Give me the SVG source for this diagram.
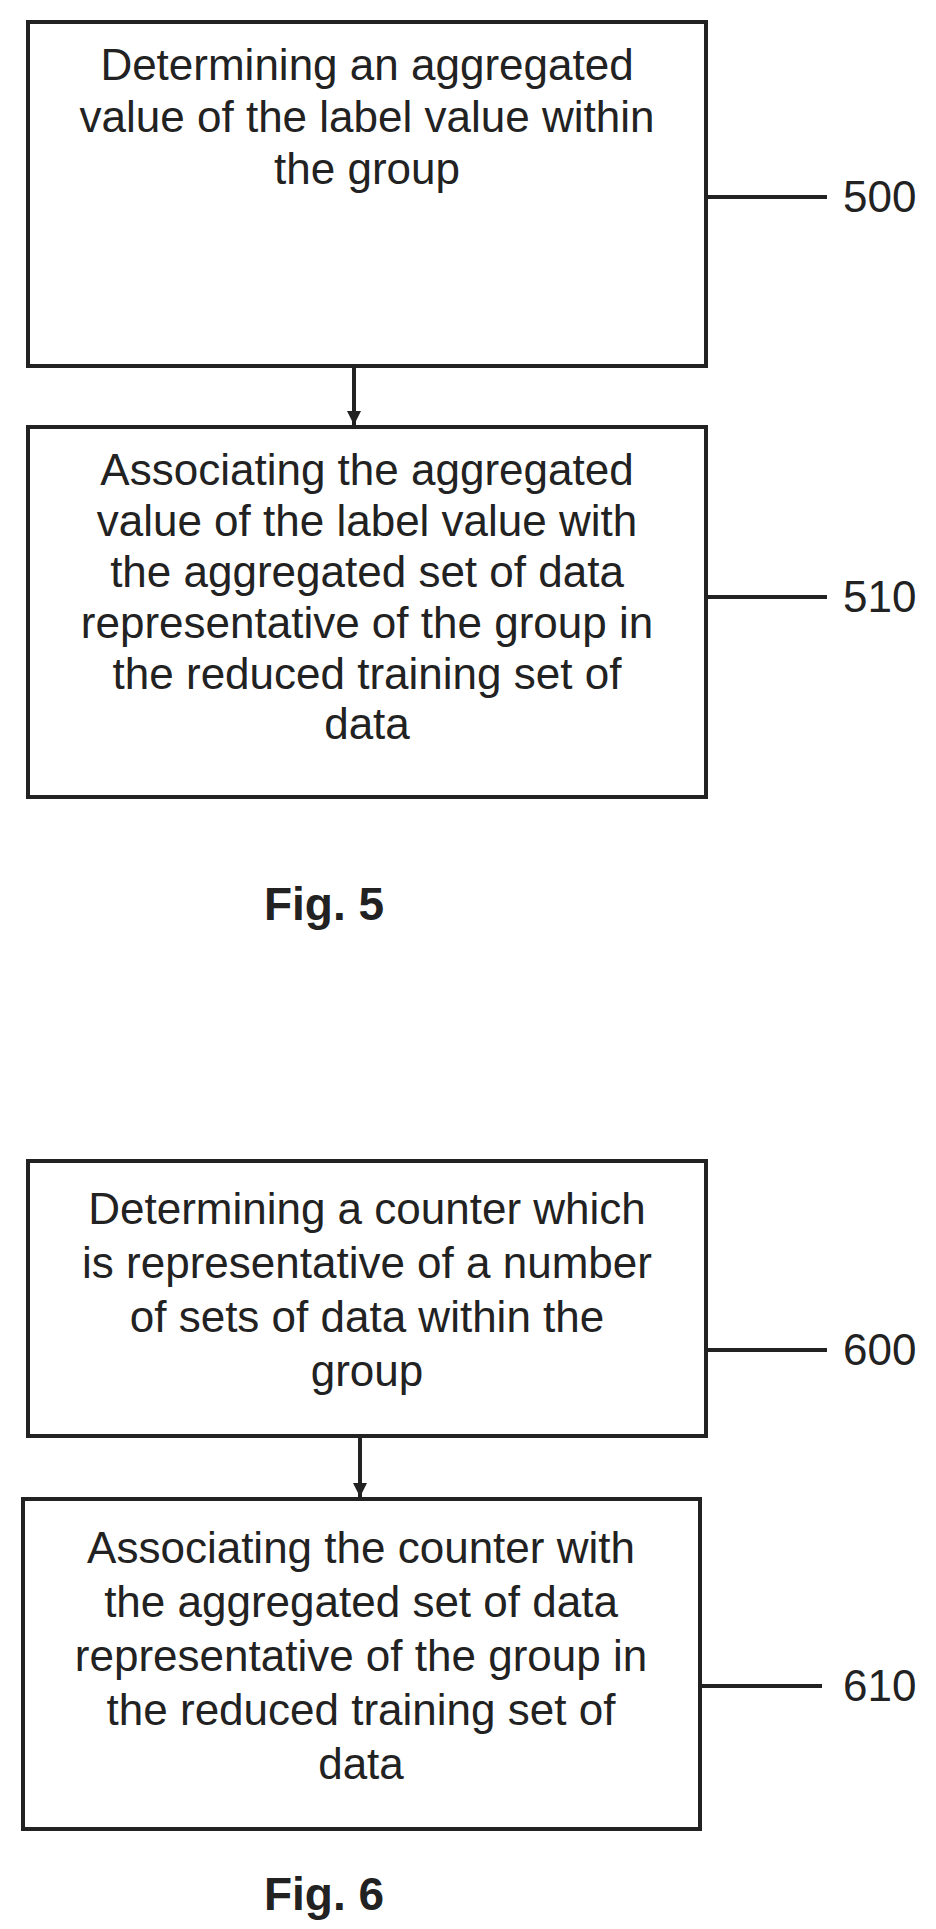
<svg xmlns="http://www.w3.org/2000/svg" width="936" height="1929" viewBox="0 0 936 1929">
<defs>
<style>
.box{fill:#fff;stroke:#222;stroke-width:4}
.t{font-family:"Liberation Sans",Arial,sans-serif;font-size:44px;fill:#222;text-anchor:middle}
.n{font-family:"Liberation Sans",Arial,sans-serif;font-size:44px;fill:#222}
.f{font-family:"Liberation Sans",Arial,sans-serif;font-size:46px;font-weight:bold;fill:#222;text-anchor:middle}
.c{stroke:#222;stroke-width:4;fill:none}
</style>
<marker id="ah" markerWidth="16" markerHeight="16" refX="14" refY="8" orient="auto" markerUnits="userSpaceOnUse"><path d="M0,1 L14,8 L0,15 Z" fill="#222"/></marker>
</defs>
<rect width="936" height="1929" fill="#fff"/>
<g id="n500"><rect class="box" x="28" y="22" width="678" height="344"/>
<text class="t" x="367" y="80">Determining an aggregated</text>
<text class="t" x="367" y="132">value of the label value within</text>
<text class="t" x="367" y="184">the group</text></g>
<g id="n510"><rect class="box" x="28" y="427" width="678" height="370"/>
<text class="t" x="367" y="485">Associating the aggregated</text>
<text class="t" x="367" y="536">value of the label value with</text>
<text class="t" x="367" y="587">the aggregated set of data</text>
<text class="t" x="367" y="638">representative of the group in</text>
<text class="t" x="367" y="689">the reduced training set of</text>
<text class="t" x="367" y="739">data</text></g>
<g id="n600"><rect class="box" x="28" y="1161" width="678" height="275"/>
<text class="t" x="367" y="1224">Determining a counter which</text>
<text class="t" x="367" y="1278">is representative of a number</text>
<text class="t" x="367" y="1332">of sets of data within the</text>
<text class="t" x="367" y="1386">group</text></g>
<g id="n610"><rect class="box" x="23" y="1499" width="677" height="330"/>
<text class="t" x="361" y="1563">Associating the counter with</text>
<text class="t" x="361" y="1617">the aggregated set of data</text>
<text class="t" x="361" y="1671">representative of the group in</text>
<text class="t" x="361" y="1725">the reduced training set of</text>
<text class="t" x="361" y="1779">data</text></g>
<g id="labels">
<text class="n" x="843" y="212">500</text>
<text class="n" x="843" y="612">510</text>
<text class="n" x="843" y="1365">600</text>
<text class="n" x="843" y="1701">610</text>
<text class="f" x="324" y="920">Fig. 5</text>
<text class="f" x="324" y="1910">Fig. 6</text>
</g>
<g id="connectors">
<line class="c" x1="354" y1="366" x2="354" y2="425" marker-end="url(#ah)"/>
<line class="c" x1="360" y1="1436" x2="360" y2="1497" marker-end="url(#ah)"/>
<line class="c" x1="706" y1="197" x2="827" y2="197"/>
<line class="c" x1="706" y1="597" x2="827" y2="597"/>
<line class="c" x1="706" y1="1350" x2="827" y2="1350"/>
<line class="c" x1="700" y1="1686" x2="822" y2="1686"/>
</g>
</svg>
